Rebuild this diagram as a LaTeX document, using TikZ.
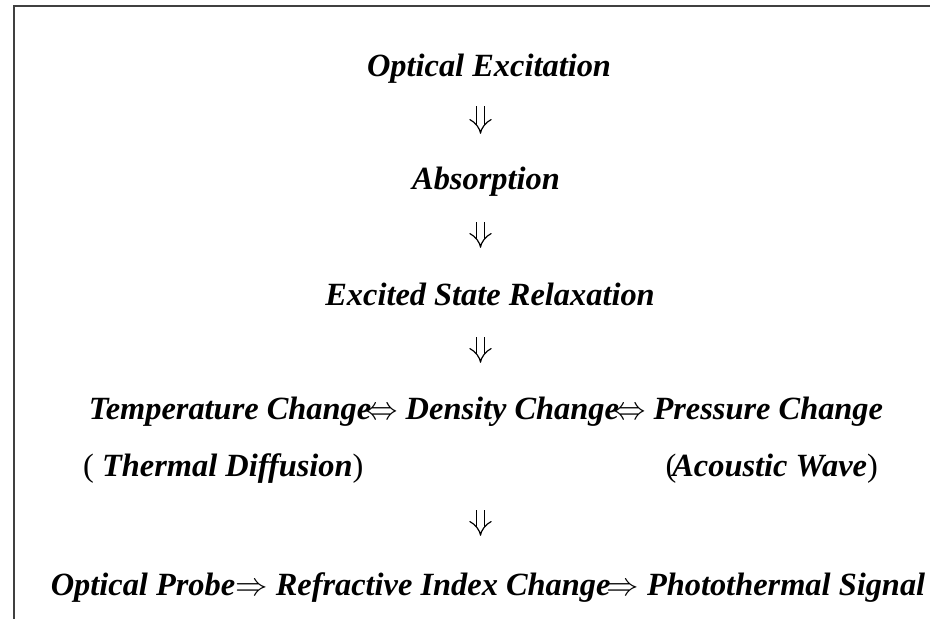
\documentclass[tikz,border=0pt]{standalone}
\usepackage{fix-cm}
\usepackage{fontspec}
\setmainfont{Liberation Serif}
\usetikzlibrary{arrows.meta}
\begin{document}
\begin{tikzpicture}[x=1pt,y=-1pt,
  lbl/.style={inner sep=0pt, font=\fontsize{32.4}{36}\selectfont\bfseries\itshape, text height=22pt, text depth=8pt},
  down/.style={draw=black, line width=1.2pt, double, double distance=6.8pt, -{Implies[length=7pt, width=17pt]}},
  frameline/.style={draw=black!75, line width=2pt}]
\useasboundingbox (0,0) rectangle (930,619);
\draw[frameline] (14,619) -- (14,6) -- (930,6);
\coordinate (ax) at (480.5,0);
\node[lbl, anchor=base] (n1) at (489,76) {Optical Excitation};
\node[lbl, anchor=base] (n2) at (486,189) {Absorption};
\node[lbl, anchor=base] (n3) at (490,305) {Excited State Relaxation};
\node[lbl, anchor=base] (n4) at (486,419) {Temperature Change\kern-6pt$\Leftrightarrow$ Density Change\kern-6pt$\Leftrightarrow$ Pressure Change};
\node[lbl, anchor=base west] (n5) at (83,476) {{\mdseries\upshape(} Thermal Diffusion{\mdseries\upshape)}};
\node[lbl, anchor=base east] (n6) at (878,476) {{\mdseries\upshape(}\kern-4pt Acoustic Wave{\mdseries\upshape)}};
\node[lbl, anchor=base] (n7) at (488,595) {Optical Probe$\Rightarrow$ Refractive Index Change\kern-4pt$\Rightarrow$ Photothermal Signal};
\draw[down, shorten <=22pt, shorten >=33pt] (n1.south -| ax) -- (n2.north -| ax);
\draw[down, shorten <=25pt, shorten >=35pt] (n2.south -| ax) -- (n3.north -| ax);
\draw[down, shorten <=24pt, shorten >=34pt] (n3.south -| ax) -- (n4.north -| ax);
\draw[down, shorten <=83pt, shorten >=37pt] (n4.south -| ax) -- (n7.north -| ax);
\end{tikzpicture}
\end{document}
